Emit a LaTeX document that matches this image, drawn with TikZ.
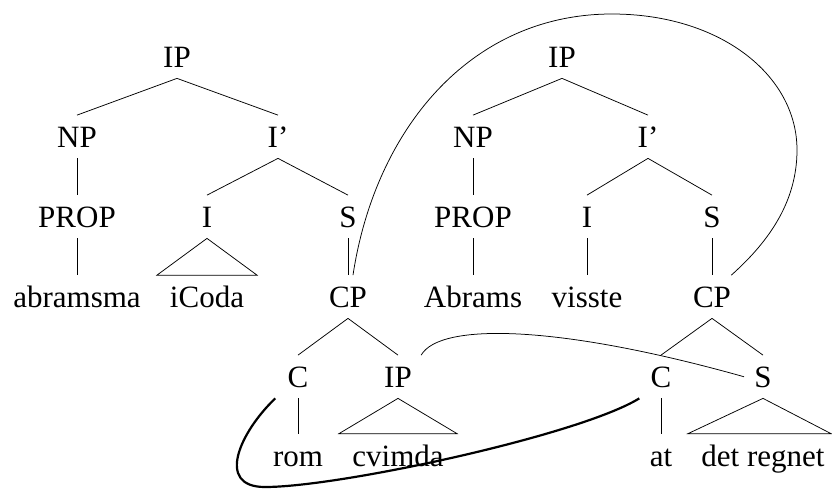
\documentclass[tikz,border=0pt]{standalone}
\usepackage{fontspec}
\setmainfont{Liberation Serif}

\tikzset{every picture/.style={line width=0.75pt}}
\tikzset{cat/.style={inner sep=0pt, anchor=base, text height=32pt, text depth=10.5pt, font=\fontsize{31}{37}\selectfont}}
\tikzset{movement/.style={line width=2.2pt}}

\begin{document}
\begin{tikzpicture}[x=1pt,y=1pt,yscale=-1,xscale=1]
%set diagram size to 832 x 488
\useasboundingbox (0,0) rectangle (832,488);

% Text Node (left tree)
\node [cat] (ipA) at (177,67.5) {IP};
\node [cat] (npA) at (77,147.5) {NP};
\node [cat] (ibarA) at (278,147.5) {I'};
\node [cat] (propA) at (77,227.5) {PROP};
\node [cat] (iA) at (207,227.5) {I};
\node [cat] (sA) at (348,227.5) {S};
\node [cat] (abramsma) at (77,307.5) {abramsma};
\node [cat] (icoda) at (207,307.5) {iCoda};
\node [cat] (cpA) at (348,307.5) {CP};
\node [cat] (cA) at (298,387.5) {C};
\node [cat] (ipB) at (398,387.5) {IP};
\node [cat] (rom) at (298,466) {rom};
\node [cat] (cvimda) at (398,466) {cvimda};
% Text Node (right tree)
\node [cat] (ipC) at (562,67.5) {IP};
\node [cat] (npC) at (473,147.5) {NP};
\node [cat] (ibarC) at (648,147.5) {I'};
\node [cat] (propC) at (473,227.5) {PROP};
\node [cat] (iC) at (587,227.5) {I};
\node [cat] (sC) at (712,227.5) {S};
\node [cat] (abrams) at (473,307.5) {Abrams};
\node [cat] (visste) at (587,307.5) {visste};
\node [cat] (cpC) at (712,307.5) {CP};
\node [cat] (cC) at (661,387.5) {C};
\node [cat] (sD) at (763,387.5) {S};
\node [cat] (at) at (661,466) {at};
\node [cat] (detregnet) at (763,466) {det regnet};

%Straight Lines (left tree)
\draw (ipA.south) -- (npA.north);
\draw (ipA.south) -- (ibarA.north);
\draw (npA.south) -- (propA.north);
\draw (ibarA.south) -- (iA.north);
\draw (ibarA.south) -- (sA.north);
\draw (propA.south) -- (abramsma.north);
\draw (sA.south) -- (cpA.north);
\draw (cpA.south) -- (cA.north);
\draw (cpA.south) -- (ipB.north);
\draw (cA.south) -- (rom.north);
%Triangles
\draw (iA.south) -- ([xshift=-50pt]icoda.north) -- ([xshift=50pt]icoda.north) -- cycle;
\draw (ipB.south) -- ([xshift=-59pt]cvimda.north) -- ([xshift=59pt]cvimda.north) -- cycle;

%Straight Lines (right tree)
\draw (ipC.south) -- (npC.north);
\draw (ipC.south) -- (ibarC.north);
\draw (npC.south) -- (propC.north);
\draw (ibarC.south) -- (iC.north);
\draw (ibarC.south) -- (sC.north);
\draw (propC.south) -- (abrams.north);
\draw (iC.south) -- (visste.north);
\draw (sC.south) -- (cpC.north);
\draw (cpC.south) -- (cC.north);
\draw (cpC.south) -- (sD.north);
\draw (cC.south) -- (at.north);
%Triangles
\draw (sD.south) -- ([xshift=-75pt]detregnet.north) -- ([xshift=68pt]detregnet.north) -- cycle;

%Curve Lines
\draw ([xshift=5pt]cpA.north) .. controls (375,130) and (470,14) .. (612,14) .. controls (720,14) and (797,75) .. (797,150) .. controls (797,205) and (765,245) .. (cpC.north east);
\draw ([xshift=9pt]ipB.north east) .. controls (440,322) and (560,325) .. ([xshift=-10pt]sD.west);
\draw [movement] ([xshift=-12pt]cA.south west) .. controls (240,432) and (215,487) .. (265,487) .. controls (340,487) and (580,435) .. ([xshift=-11pt]cC.south west);

\end{tikzpicture}
\end{document}
